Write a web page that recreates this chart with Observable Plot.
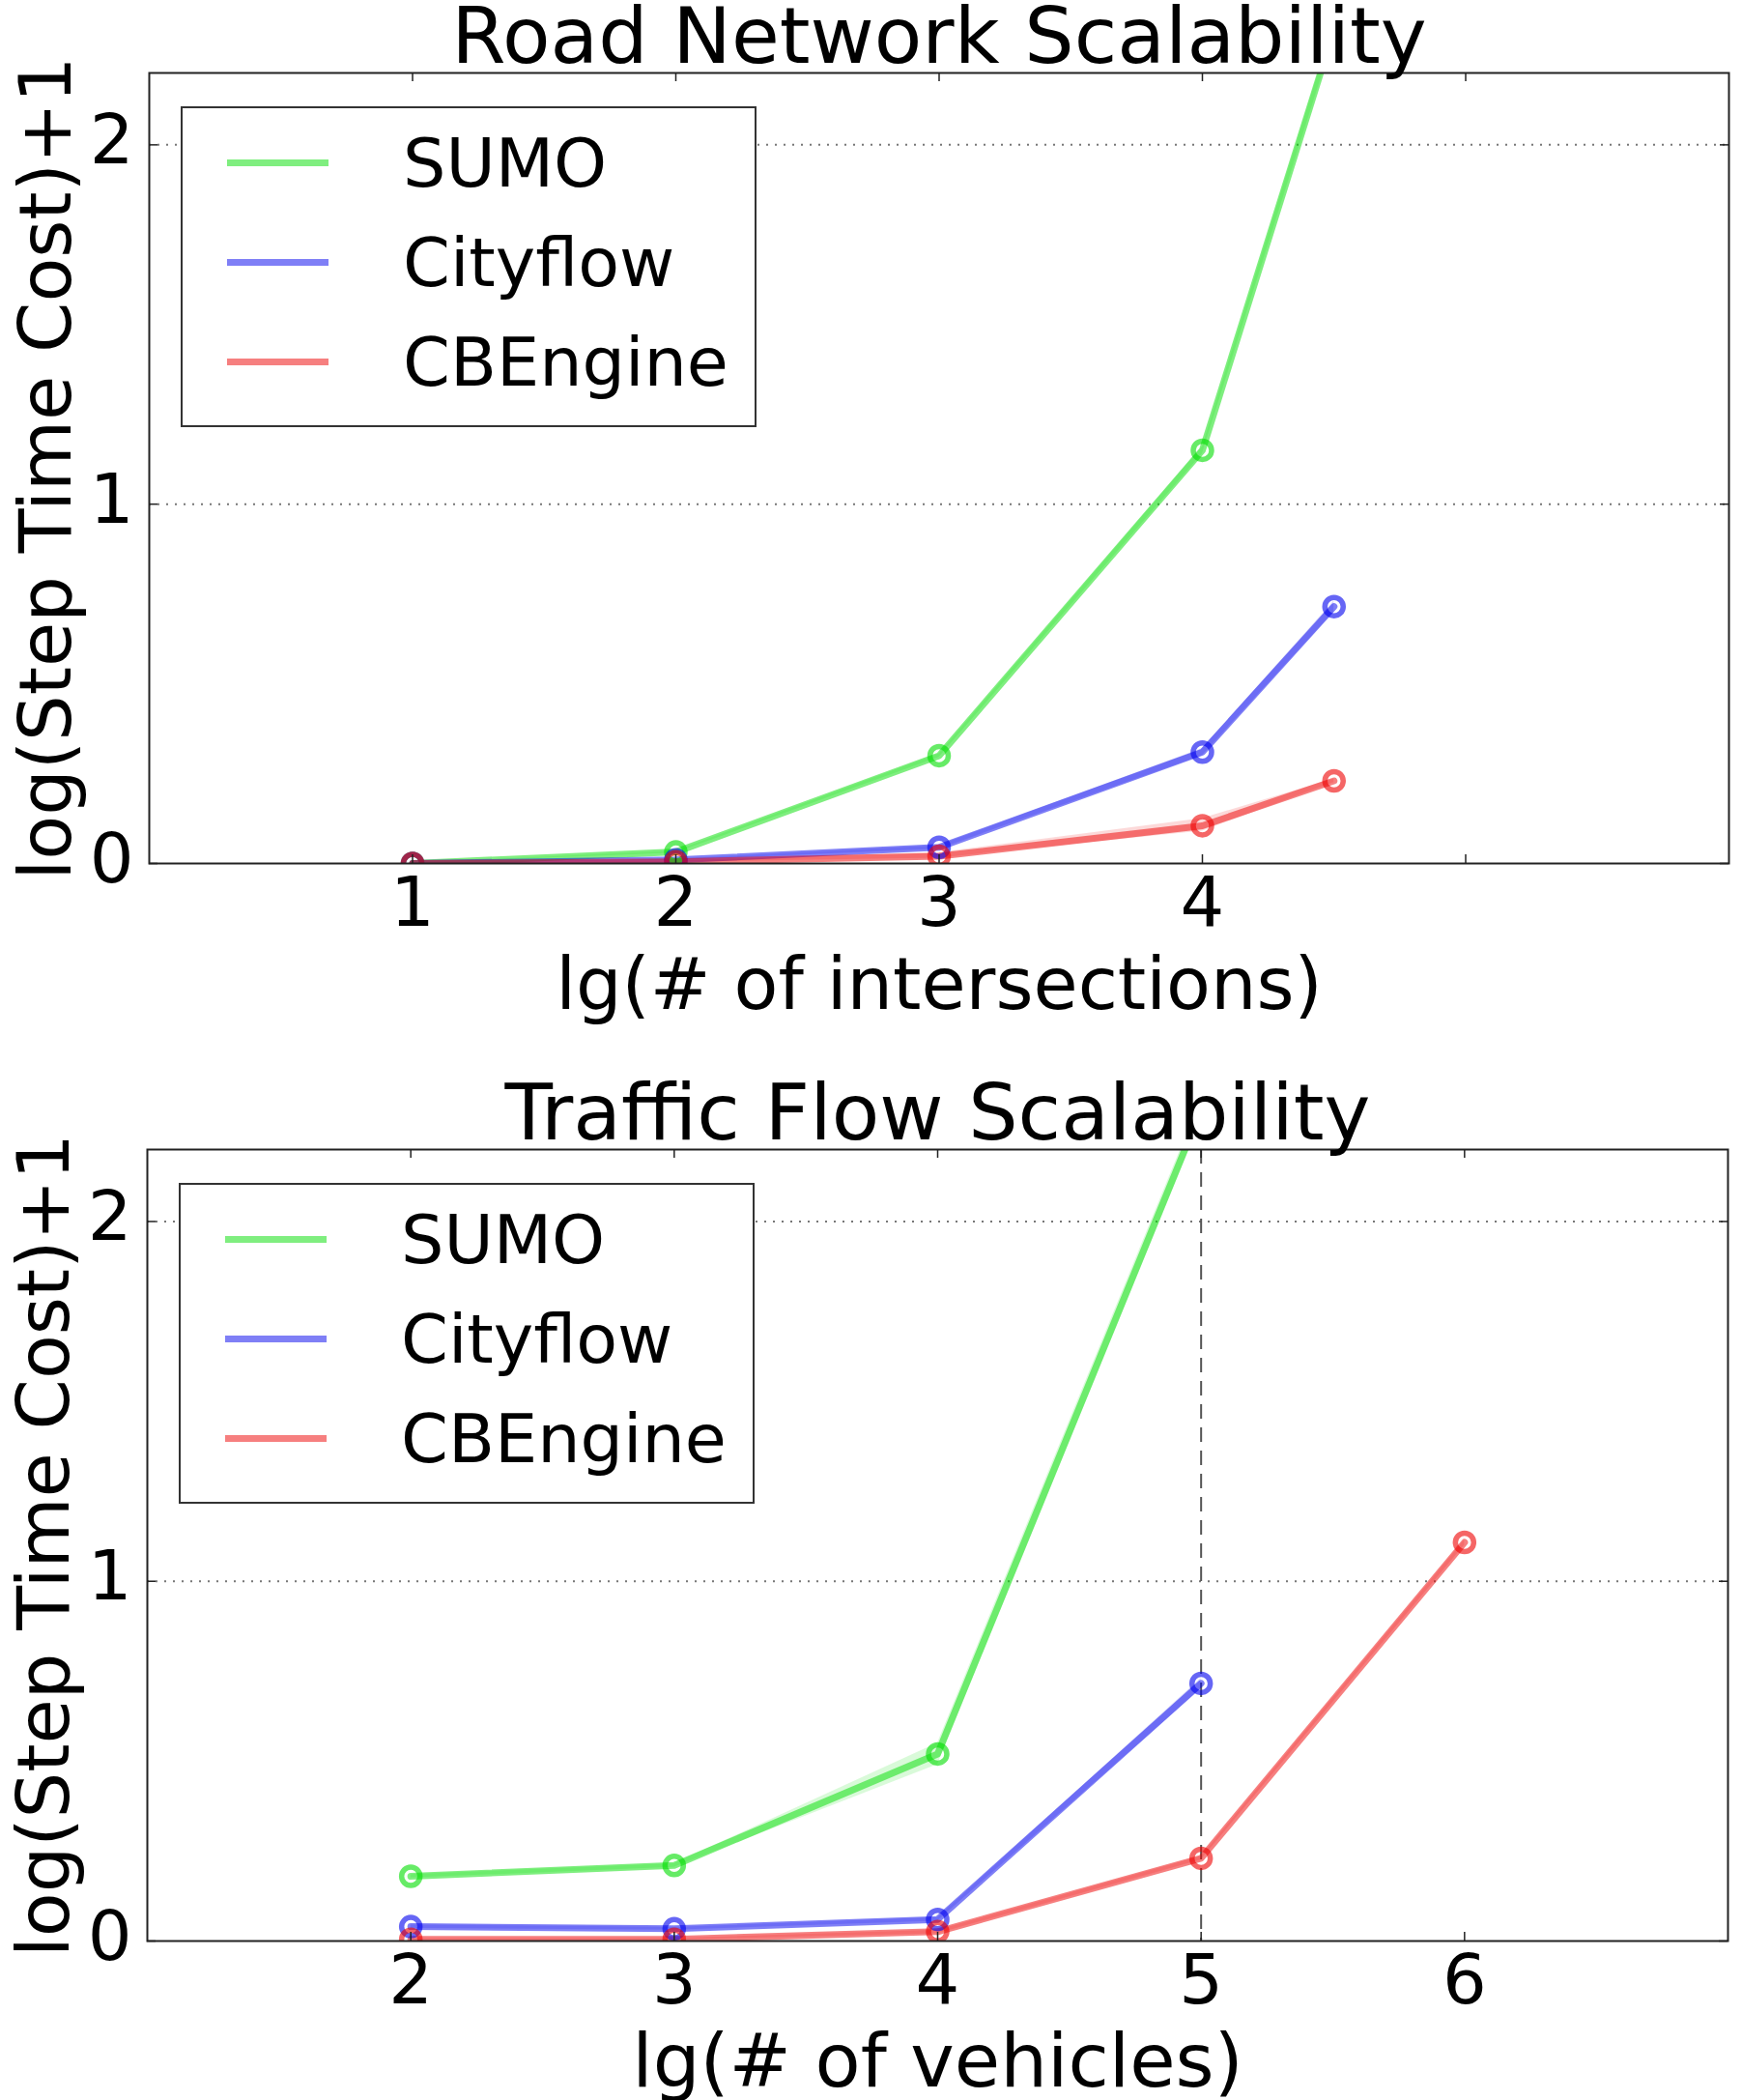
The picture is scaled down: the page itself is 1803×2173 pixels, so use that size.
<!DOCTYPE html>
<html><head><meta charset="utf-8">
<script src="https://cdn.jsdelivr.net/npm/d3@7"></script>
<script src="https://cdn.jsdelivr.net/npm/@observablehq/plot@0.6"></script>
<style>
body{margin:0;background:#fff;font-family:"DejaVu Sans",sans-serif;}
.panel{position:relative;width:1803px;}
.panel svg{display:block;overflow:visible;}
.legend{position:absolute;background:#fff;border:2px solid #333;box-sizing:border-box;}
.row{position:absolute;left:0;height:80px;}
.sw{position:absolute;height:7px;}
.lt{position:absolute;font-size:70px;line-height:1;color:#000;white-space:nowrap;}
</style></head><body><div id="root"></div>
<script>
const seriesNames = ["SUMO", "Cityflow", "CBEngine"];
const seriesColors = ["#00dd00", "#0000ee", "#ee0000"];
const yTicks = [0, 1, 2];
const yLabel = "log(Step Time Cost)+1";

// Road network scalability
const roadTitle = "Road Network Scalability";
const roadXLabel = "lg(# of intersections)";
const roadTicks = [1, 2, 3, 4, 5];
const roadTickLabels = [1, 2, 3, 4];
const roadX = [1, 2, 3, 4, 4.5];
const roadSUMO = [0.0, 0.032, 0.30, 1.15, 2.32];
const roadSUMOLo = [0.0, 0.029, 0.295, 1.14, 2.30];
const roadSUMOHi = [0.0, 0.035, 0.305, 1.16, 2.34];
const roadCityflow = [0.0, 0.01, 0.045, 0.31, 0.715];
const roadCityflowLo = [0.0, 0.008, 0.04, 0.30, 0.70];
const roadCityflowHi = [0.0, 0.012, 0.05, 0.32, 0.73];
const roadCBEngine = [0.0, 0.005, 0.02, 0.105, 0.23];
const roadCBEngineLo = [0.0, 0.003, 0.015, 0.09, 0.225];
const roadCBEngineHi = [0.0, 0.007, 0.03, 0.125, 0.235];

// Traffic flow scalability
const flowTitle = "Traffic Flow Scalability";
const flowXLabel = "lg(# of vehicles)";
const flowTicks = [2, 3, 4, 5, 6];
const flowTickLabels = [2, 3, 4, 5, 6];
const flowX = [2, 3, 4, 5, 6];
const flowSUMO = [0.18, 0.21, 0.52, 2.31];
const flowSUMOLo = [0.175, 0.205, 0.49, 2.28];
const flowSUMOHi = [0.185, 0.215, 0.55, 2.34];
const flowCityflow = [0.04, 0.034, 0.06, 0.716];
const flowCityflowLo = [0.035, 0.03, 0.055, 0.70];
const flowCityflowHi = [0.045, 0.038, 0.065, 0.73];
const flowCBEngine = [0.005, 0.005, 0.026, 0.23, 1.108];
const flowCBEngineLo = [0.003, 0.003, 0.02, 0.225, 1.10];
const flowCBEngineHi = [0.007, 0.007, 0.03, 0.235, 1.115];
const flowMarker = [5];

function rowsOf(xs, list) {
  const out = [];
  list.forEach(([name, ys, lo, hi]) => {
    ys.forEach((y, i) => out.push({series: name, x: xs[i], y, lo: lo[i], hi: hi[i]}));
  });
  return out;
}

const roadRows = rowsOf(roadX, [
  ["SUMO", roadSUMO, roadSUMOLo, roadSUMOHi],
  ["Cityflow", roadCityflow, roadCityflowLo, roadCityflowHi],
  ["CBEngine", roadCBEngine, roadCBEngineLo, roadCBEngineHi]
]);
const flowRows = rowsOf(flowX, [
  ["SUMO", flowSUMO, flowSUMOLo, flowSUMOHi],
  ["Cityflow", flowCityflow, flowCityflowLo, flowCityflowHi],
  ["CBEngine", flowCBEngine, flowCBEngineLo, flowCBEngineHi]
]);

function panel(cfg) {
  const W = 1803 - cfg.ml - cfg.mr;
  const H = cfg.height - cfg.mt - cfg.mb;
  const marks = [
    Plot.ruleY([1, 2], {stroke: "#777", strokeWidth: 2, strokeDasharray: "2,7"})
  ];
  if (cfg.vline) marks.push(Plot.ruleX(cfg.vline, {stroke: "#555", strokeWidth: 2, strokeDasharray: "15,9"}));
  marks.push(
    Plot.areaY(cfg.rows, {x: "x", y1: "lo", y2: "hi", z: "series", fill: "series", fillOpacity: 0.15, clip: true}),
    Plot.line(cfg.rows, {x: "x", y: "y", z: "series", stroke: "series", strokeOpacity: 0.5, strokeWidth: 7, clip: true}),
    Plot.dot(cfg.rows, {x: "x", y: "y", stroke: "series", r: 9.5, strokeWidth: 5.5, strokeOpacity: 0.6, fill: "none", clip: true}),
    Plot.frame({stroke: "#222", strokeWidth: 2}),
    Plot.tickX(cfg.ticks, {x: d => d, insetTop: H - 9, stroke: "#222", strokeWidth: 1.5}),
    Plot.tickX(cfg.ticks, {x: d => d, insetBottom: H - 9, stroke: "#222", strokeWidth: 1.5}),
    Plot.tickY(yTicks, {y: d => d, insetRight: W - 9, stroke: "#222", strokeWidth: 1.5}),
    Plot.tickY(yTicks, {y: d => d, insetLeft: W - 9, stroke: "#222", strokeWidth: 1.5}),
    Plot.axisX(cfg.tickLabels, {tickSize: 0, tickPadding: 13, fontSize: 72, label: null, fill: "#000", tickFormat: d => String(d)}),
    Plot.axisY(yTicks, {tickSize: 0, tickPadding: 16, fontSize: 72, dy: -4, label: null, fill: "#000", tickFormat: d => String(d)}),
    Plot.text([cfg.title], {text: d => d, frameAnchor: "top", textAnchor: "middle", lineAnchor: "bottom", dy: -11, fontSize: 81, fill: "#000"}),
    Plot.text([cfg.xLabel], {text: d => d, frameAnchor: "bottom", textAnchor: "middle", lineAnchor: "bottom", dy: 150, fontSize: cfg.xLabelSize, fill: "#000"}),
    Plot.text([yLabel], {text: d => d, frameAnchor: "left", textAnchor: "middle", rotate: -90, lineAnchor: "bottom", dx: -82, fontSize: 75, fill: "#000"})
  );
  const svg = Plot.plot({
    width: 1803,
    height: cfg.height,
    marginTop: cfg.mt, marginBottom: cfg.mb, marginLeft: cfg.ml, marginRight: cfg.mr,
    x: {domain: cfg.xDomain, axis: null},
    y: {domain: [0, 2.2], axis: null},
    color: {domain: seriesNames, range: seriesColors},
    style: {fontFamily: "DejaVu Sans", background: "#fff", color: "#000", overflow: "visible"},
    marks
  });
  const wrap = document.createElement("div");
  wrap.className = "panel";
  wrap.style.height = cfg.height + "px";
  wrap.appendChild(svg);
  // legend
  const lg = document.createElement("div");
  lg.className = "legend";
  lg.style.left = (cfg.ml + 33) + "px";
  lg.style.top = (cfg.mt + 35) + "px";
  lg.style.width = "596px";
  lg.style.height = "332px";
  seriesNames.forEach((name, i) => {
    const row = document.createElement("div");
    row.className = "row";
    const c = 56 + 103 * i;
    row.style.top = (c - 40) + "px";
    row.style.width = "590px";
    const sw = document.createElement("div");
    sw.className = "sw";
    sw.style.left = "46px";
    sw.style.width = "105px";
    sw.style.top = "36.5px";
    sw.style.background = seriesColors[i];
    sw.style.opacity = 0.5;
    const t = document.createElement("div");
    t.className = "lt";
    t.style.left = "228px";
    t.style.top = "6px";
    t.textContent = name;
    row.appendChild(sw);
    row.appendChild(t);
    lg.appendChild(row);
  });
  wrap.appendChild(lg);
  return wrap;
}

const root = document.getElementById("root");
root.appendChild(panel({
  title: roadTitle, xLabel: roadXLabel, xLabelSize: 75, rows: roadRows, xDomain: [0, 6],
  ticks: roadTicks, tickLabels: roadTickLabels,
  height: 1087, mt: 75, mb: 194, ml: 154, mr: 14
}));
root.appendChild(panel({
  title: flowTitle, xLabel: flowXLabel, xLabelSize: 77, rows: flowRows, xDomain: [1, 7],
  ticks: flowTicks, tickLabels: flowTickLabels, vline: flowMarker,
  height: 1086, mt: 102, mb: 165, ml: 152, mr: 15
}));
</script></body></html>
